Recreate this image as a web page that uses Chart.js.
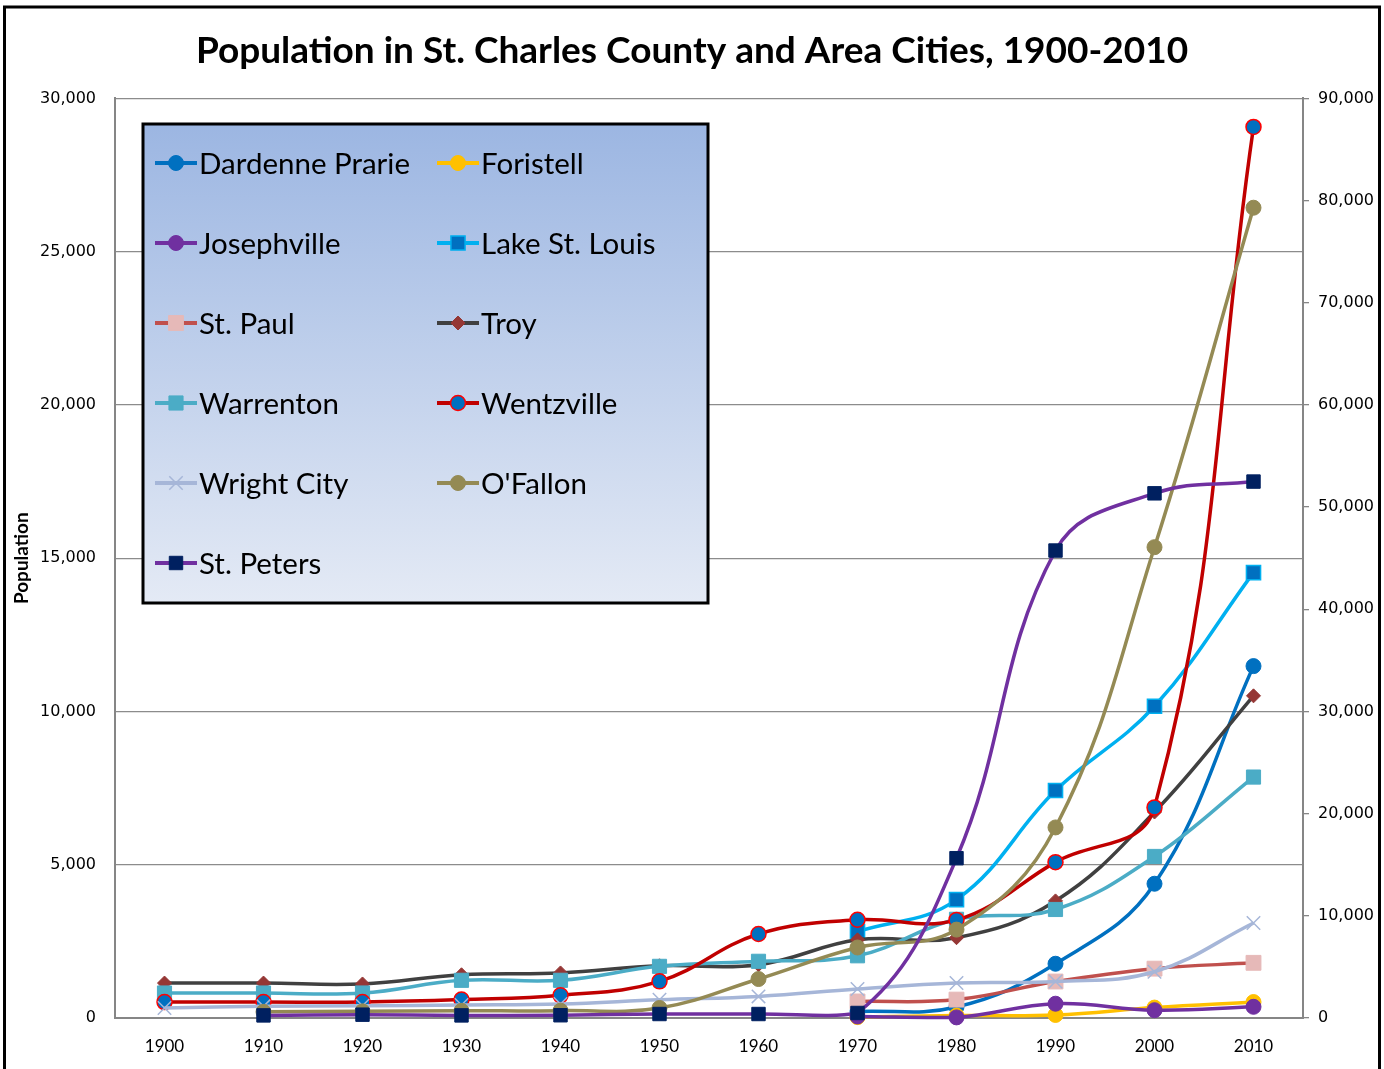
<!DOCTYPE html>
<html>
<head>
<meta charset="utf-8">
<title>Population in St. Charles County and Area Cities, 1900-2010</title>
<script src="https://cdn.jsdelivr.net/npm/chart.js@4.4.1/dist/chart.umd.min.js"></script>
<style>
  html, body { margin: 0; padding: 0; background: #fff; }
  #wrap { position: relative; width: 1384px; height: 1069px; }
</style>
</head>
<body>
<div id="wrap"><canvas id="popChart" width="1384" height="1069"></canvas></div>
<script>
// Census years (category axis)
const years = ['1900', '1910', '1920', '1930', '1940', '1950', '1960', '1970', '1980', '1990', '2000', '2010'];

// Primary axis series (left, 0 - 30,000)
const dardennePrarie = [null, null, null, null, null, null, null, 215, 360, 1770, 4380, 11480];
const foristell      = [null, null, null, null, null, null, null, 30, 80, 100, 340, 520];
const josephville    = [null, null, null, null, null, null, null, 50, 20, 466, 255, 365];
const lakeStLouis    = [null, null, null, null, null, null, null, 2820, 3860, 7420, 10170, 14530];
const stPaul         = [null, null, null, null, null, null, null, 540, 600, 1190, 1610, 1800];
const troy           = [1140, 1140, 1110, 1410, 1470, 1705, 1740, 2550, 2620, 3820, 6720, 10510];
const warrenton      = [815, 815, 815, 1230, 1230, 1685, 1850, 2030, 3220, 3540, 5270, 7860];
const wentzville     = [520, 520, 520, 600, 740, 1195, 2740, 3205, 3200, 5085, 6870, 29070];
const wrightCity     = [325, 380, 400, 425, 455, 597, 705, 945, 1140, 1190, 1510, 3100];

// Secondary axis series (right, 0 - 90,000)
const oFallon  = [null, 600, 650, 700, 720, 980, 3815, 6900, 8650, 18650, 46080, 79300];
const stPeters = [null, 255, 325, 255, 270, 390, 390, 490, 15640, 45750, 51350, 52500];

// Axis tick ranges
const leftMax = 30000, leftStep = 5000;
const rightMax = 90000, rightStep = 10000;

function fmt(v) {
    return Number(v).toLocaleString('en-US');
}

// one helper so all series share line width, smoothing etc.
function series(label, data, line, style, fill, edge, radius, edgeWidth, axis) {
    return {
        label: label,
        data: data,
        yAxisID: axis || 'y',
        borderColor: line,
        backgroundColor: line,
        borderWidth: 3.5,
        tension: 0.4,
        pointStyle: style,
        pointRadius: radius,
        pointBackgroundColor: fill,
        pointBorderColor: edge,
        pointBorderWidth: edgeWidth,
        clip: false
    };
}

const datasets = [
    series('Dardenne Prarie', dardennePrarie, '#0070C0', 'circle', '#0070C0', '#0070C0', 7.5, 1),
    series('Foristell', foristell, '#FFC000', 'circle', '#FFC000', '#FFC000', 7.5, 1),
    series('Josephville', josephville, '#7030A0', 'circle', '#7030A0', '#7030A0', 7.5, 1),
    series('Lake St. Louis', lakeStLouis, '#00B0F0', 'rect', '#0070C0', '#00B0F0', 10, 1.5),
    series('St. Paul', stPaul, '#C0504D', 'rect', '#E6B9B8', '#E6B9B8', 10.5, 1),
    series('Troy', troy, '#404040', 'rectRot', '#953735', '#953735', 7, 1),
    series('Warrenton', warrenton, '#4BACC6', 'rect', '#4BACC6', '#4BACC6', 10, 1),
    series('Wentzville', wentzville, '#C00000', 'circle', '#0070C0', '#FF0000', 7.5, 1.5),
    series('Wright City', wrightCity, '#A6B6D8', 'crossRot', '#A6B6D8', '#A6B6D8', 9.5, 1.5),
    series("O'Fallon", oFallon, '#948A54', 'circle', '#948A54', '#948A54', 7.5, 1, 'y2'),
    series('St. Peters', stPeters, '#7030A0', 'rect', '#002060', '#002060', 9.5, 1, 'y2')
];
// later series drawn on top, like the spreadsheet
datasets.forEach((d, i) => { d.order = 100 - i; });

// Legend box inside the plot, two columns
const boxLegend = {
    id: 'boxLegend',
    afterDraw(chart) {
        const ctx = chart.ctx;
        const L = 143, T = 124, R = 708, B = 603;
        ctx.save();
        const g = ctx.createLinearGradient(0, T, 0, B);
        g.addColorStop(0, '#9CB6E2');
        g.addColorStop(1, '#E4EAF5');
        ctx.fillStyle = g;
        ctx.fillRect(L, T, R - L, B - T);
        ctx.lineWidth = 3;
        ctx.strokeStyle = '#000';
        ctx.strokeRect(L, T, R - L, B - T);

        chart.data.datasets.forEach((ds, i) => {
            const x = (i % 2) ? 437 : 155;
            const y = 163 + Math.floor(i / 2) * 80;
            ctx.beginPath();
            ctx.lineWidth = 4;
            ctx.strokeStyle = ds.borderColor;
            ctx.moveTo(x, y);
            ctx.lineTo(x + 42, y);
            ctx.stroke();

            ctx.fillStyle = ds.pointBackgroundColor;
            ctx.strokeStyle = ds.pointBorderColor;
            ctx.lineWidth = ds.pointBorderWidth;
            Chart.helpers.drawPoint(ctx, {
                pointStyle: ds.pointStyle,
                radius: ds.pointRadius,
                rotation: 0,
                borderWidth: ds.pointBorderWidth
            }, x + 21, y);

            ctx.fillStyle = '#000';
            ctx.font = '29.5px Lato';
            ctx.textBaseline = 'middle';
            ctx.textAlign = 'left';
            ctx.fillText(ds.label, x + 44, y + 1);
        });
        ctx.restore();
    }
};

// white page and black outer frame
const frame = {
    id: 'frame',
    beforeDraw(chart) {
        const ctx = chart.ctx;
        ctx.save();
        ctx.fillStyle = '#fff';
        ctx.fillRect(0, 0, chart.width, chart.height);
        ctx.restore();
    },
    afterDraw(chart) {
        const ctx = chart.ctx;
        ctx.save();
        ctx.lineWidth = 3;
        ctx.strokeStyle = '#000';
        ctx.strokeRect(4.5, 7, 1375, 1080);
        ctx.restore();
    }
};

const tickFont = { family: 'DejaVu Sans', size: 16 };

new Chart(document.getElementById('popChart'), {
    type: 'line',
    data: { labels: years, datasets: datasets },
    plugins: [frame, boxLegend],
    options: {
        responsive: false,
        devicePixelRatio: 1,
        animation: false,
        layout: { padding: 0 },
        plugins: {
            legend: { display: false },
            tooltip: { enabled: false },
            title: {
                display: true,
                text: 'Population in St. Charles County and Area Cities, 1900-2010',
                color: '#000',
                font: { family: 'Lato', size: 37, weight: 'bold' },
                padding: { top: 29, bottom: 25 }
            }
        },
        scales: {
            x: {
                offset: true,
                grid: { display: false, drawTicks: false },
                border: { color: '#868686', width: 2 },
                ticks: { color: '#000', padding: 18, font: { family: 'Lato', size: 17 } },
                afterFit(s) { s.height = 51; }
            },
            y: {
                position: 'left',
                min: 0,
                max: leftMax,
                ticks: { stepSize: leftStep, color: '#000', padding: 19, font: tickFont, callback: fmt },
                grid: { color: '#8C8C8C', lineWidth: 1.3, drawTicks: false },
                border: { color: '#868686', width: 2 },
                title: {
                    display: true,
                    text: 'Population',
                    color: '#000',
                    font: { family: 'Lato', size: 19, weight: 'bold' },
                    padding: { top: 10.5, bottom: 0 }
                },
                afterFit(s) { s.width = 115; }
            },
            y2: {
                position: 'right',
                min: 0,
                max: rightMax,
                ticks: { stepSize: rightStep, color: '#000', padding: 9, font: tickFont, callback: fmt },
                grid: { drawOnChartArea: false, drawTicks: true, tickLength: 6, color: '#868686', lineWidth: 1.3 },
                border: { color: '#868686', width: 2 },
                afterFit(s) { s.width = 81; }
            }
        }
    }
});
</script>
</body>
</html>
